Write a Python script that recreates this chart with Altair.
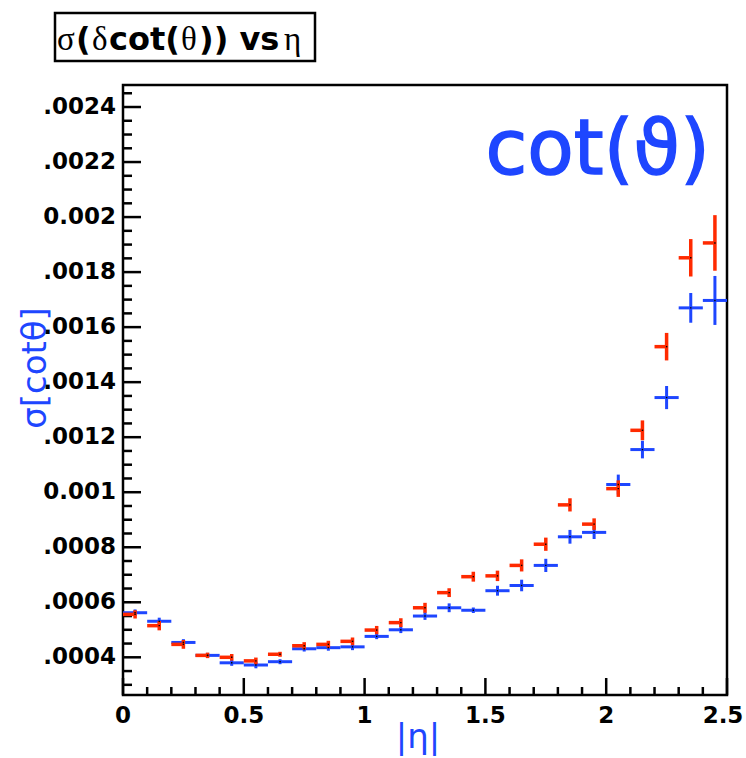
import altair as alt
import pandas as pd

# ---------------- data ----------------
eta_centers = [0.05, 0.15, 0.25, 0.35, 0.45, 0.55, 0.65, 0.75, 0.85, 0.95,
               1.05, 1.15, 1.25, 1.35, 1.45, 1.55, 1.65, 1.75, 1.85, 1.95,
               2.05, 2.15, 2.25, 2.35, 2.45]
bin_half = 0.05

blue_vals = [0.000562, 0.000531, 0.000454, 0.000407, 0.000380, 0.000372, 0.000384,
             0.000431, 0.000435, 0.000438, 0.000476, 0.000500, 0.000550, 0.000580,
             0.000571, 0.000642, 0.000661, 0.000734, 0.000838, 0.000854, 0.001028,
             0.001155, 0.001344, 0.001670, 0.001697]
blue_errs = [12e-6, 13e-6, 12e-6, 9e-6, 11e-6, 12e-6, 9e-6, 10e-6, 11e-6, 12e-6,
             10e-6, 12e-6, 14e-6, 16e-6, 10e-6, 18e-6, 21e-6, 24e-6, 25e-6, 24e-6,
             36e-6, 32e-6, 42e-6, 54e-6, 89e-6]

red_vals = [0.000556, 0.000515, 0.000447, 0.000407, 0.000400, 0.000387, 0.000411,
            0.000442, 0.000447, 0.000458, 0.000499, 0.000526, 0.000580, 0.000635,
            0.000693, 0.000696, 0.000734, 0.000811, 0.000954, 0.000884, 0.001013,
            0.001225, 0.001529, 0.001852, 0.001906]
red_errs = [15e-6, 17e-6, 16e-6, 10e-6, 12e-6, 12e-6, 9e-6, 13e-6, 13e-6, 14e-6,
            15e-6, 16e-6, 18e-6, 16e-6, 18e-6, 19e-6, 22e-6, 24e-6, 24e-6, 21e-6,
            30e-6, 36e-6, 50e-6, 68e-6, 101e-6]

y_major = [0.0004, 0.0006, 0.0008, 0.0010, 0.0012, 0.0014, 0.0016, 0.0018,
           0.0020, 0.0022, 0.0024]
y_labels = [".0004", ".0006", ".0008", "0.001", ".0012", ".0014", ".0016",
            ".0018", "0.002", ".0022", ".0024"]
y_minor = [0.00030, 0.00035, 0.00045, 0.00050, 0.00055, 0.00065, 0.00070, 0.00075,
           0.00085, 0.00090, 0.00095, 0.00105, 0.00110, 0.00115, 0.00125, 0.00130,
           0.00135, 0.00145, 0.00150, 0.00155, 0.00165, 0.00170, 0.00175, 0.00185,
           0.00190, 0.00195, 0.00205, 0.00210, 0.00215, 0.00225, 0.00230, 0.00235,
           0.00245]
x_major = [0.0, 0.5, 1.0, 1.5, 2.0, 2.5]
x_labels = ["0", "0.5", "1", "1.5", "2", "2.5"]
x_minor = [0.1, 0.2, 0.3, 0.4, 0.6, 0.7, 0.8, 0.9, 1.1, 1.2, 1.3, 1.4,
           1.6, 1.7, 1.8, 1.9, 2.1, 2.2, 2.3, 2.4]

# ---------------- style ----------------
BLUE = "#1e46ff"
RED = "#ff2a00"
W, H = 604, 610

df = pd.DataFrame({"x": eta_centers, "blue": blue_vals, "berr": blue_errs,
                   "red": red_vals, "rerr": red_errs})
df["xlo"] = df["x"] - bin_half
df["xhi"] = df["x"] + bin_half
df["blo"] = df["blue"] - df["berr"]
df["bhi"] = df["blue"] + df["berr"]
df["rlo"] = df["red"] - df["rerr"]
df["rhi"] = df["red"] + df["rerr"]

xs = alt.Scale(domain=[0, 2.5], nice=False, zero=False)
ys = alt.Scale(domain=[0.000263, 0.00248], nice=False, zero=False)

base = alt.Chart(df)

blue_h = base.mark_rule(color=BLUE, strokeWidth=3).encode(
    x=alt.X("xlo:Q", scale=xs, axis=None), x2="xhi:Q",
    y=alt.Y("blue:Q", scale=ys, axis=None))
blue_v = base.mark_rule(color=BLUE, strokeWidth=3).encode(
    x=alt.X("x:Q", scale=xs, axis=None),
    y=alt.Y("blo:Q", scale=ys, axis=None), y2="bhi:Q")
red_h = base.mark_rule(color=RED, strokeWidth=3.5).encode(
    x=alt.X("xlo:Q", scale=xs, axis=None), x2="x:Q",
    y=alt.Y("red:Q", scale=ys, axis=None))
red_v = base.mark_rule(color=RED, strokeWidth=3.5).encode(
    x=alt.X("x:Q", scale=xs, axis=None),
    y=alt.Y("rlo:Q", scale=ys, axis=None), y2="rhi:Q")
blue_dot = base.mark_square(color="black", size=2, opacity=1).encode(
    x=alt.X("x:Q", scale=xs, axis=None), y=alt.Y("blue:Q", scale=ys, axis=None))
red_dot = base.mark_square(color="black", size=2, opacity=1).encode(
    x=alt.X("x:Q", scale=xs, axis=None), y=alt.Y("red:Q", scale=ys, axis=None))

# ---------------- ticks (pointing inwards, ROOT style) ----------------
ymaj_df = pd.DataFrame({"v": y_major, "lab": y_labels})
ymin_df = pd.DataFrame({"v": y_minor})
xmaj_df = pd.DataFrame({"v": x_major, "lab": x_labels})
xmin_df = pd.DataFrame({"v": x_minor})

tick_w = 2.5
ymaj_t = alt.Chart(ymaj_df).mark_rule(color="black", strokeWidth=tick_w).encode(
    y=alt.Y("v:Q", scale=ys, axis=None), x=alt.value(0), x2=alt.value(18))
ymin_t = alt.Chart(ymin_df).mark_rule(color="black", strokeWidth=tick_w).encode(
    y=alt.Y("v:Q", scale=ys, axis=None), x=alt.value(0), x2=alt.value(9))
xmaj_t = alt.Chart(xmaj_df).mark_rule(color="black", strokeWidth=tick_w).encode(
    x=alt.X("v:Q", scale=xs, axis=None), y=alt.value(H), y2=alt.value(H - 17))
xmin_t = alt.Chart(xmin_df).mark_rule(color="black", strokeWidth=tick_w).encode(
    x=alt.X("v:Q", scale=xs, axis=None), y=alt.value(H), y2=alt.value(H - 8))

ylab = alt.Chart(ymaj_df).mark_text(
    font="DejaVu Sans", fontWeight="bold", fontSize=23, align="right",
    baseline="middle", color="black", dx=-7).encode(
    y=alt.Y("v:Q", scale=ys, axis=None), x=alt.value(0), text="lab:N")
xlab_font = dict(font="DejaVu Sans", fontWeight="bold", fontSize=23,
                 align="center", baseline="alphabetic", color="black")
xlab = alt.Chart(xmaj_df.iloc[:-1]).mark_text(**xlab_font).encode(
    x=alt.X("v:Q", scale=xs, axis=None), y=alt.value(H + 28), text="lab:N")
xlab_last = alt.Chart(xmaj_df.iloc[-1:]).mark_text(dx=-4, **xlab_font).encode(
    x=alt.X("v:Q", scale=xs, axis=None), y=alt.value(H + 28), text="lab:N")

# ---------------- titles and annotations ----------------
one = pd.DataFrame({"k": [0]})

def txt(s, x, y, **kw):
    return alt.Chart(one).mark_text(text=s, **kw).encode(
        x=alt.value(x), y=alt.value(y))

ytitle = txt("σ[cotθ]", -87, 283, font="DejaVu Sans", fontSize=34, color=BLUE,
             angle=270, align="center", baseline="middle")
xtitle = txt("|η|", 295, 663, font="DejaVu Sans", fontSize=34, color=BLUE,
             align="center", baseline="alphabetic")
cot = txt("cot(ϑ)", 587, 89, font="DejaVu Sans", fontSize=76, color=BLUE,
          align="right", baseline="alphabetic", stroke=BLUE, strokeWidth=1.5)

box = alt.Chart(one).mark_rect(fill="white", stroke="black", strokeWidth=2.5).encode(
    x=alt.value(-68), x2=alt.value(192), y=alt.value(-72), y2=alt.value(-24))

serif = dict(font="Liberation Serif", fontSize=33, color="black",
             align="left", baseline="alphabetic")
boldf = dict(font="DejaVu Sans", fontWeight="bold", fontSize=32, color="black",
             align="left", baseline="alphabetic")
tby = -35
title_parts = [
    txt("σ", -66, tby, **serif),
    txt("(", -47, tby, **boldf),
    txt("δ", -31, tby, **serif),
    txt("cot(", -14, tby, **boldf),
    txt("θ", 58, tby, **serif),
    txt(")) vs", 76, tby, **boldf),
    txt("η", 161, tby, **serif),
]

chart = alt.layer(
    ymin_t, ymaj_t, xmin_t, xmaj_t, ylab, xlab, xlab_last,
    blue_h, blue_v, red_h, red_v, blue_dot, red_dot,
    cot, ytitle, xtitle, box, *title_parts
).properties(
    width=W, height=H,
    autosize=alt.AutoSizeParams(type="none"),
    padding={"left": 123, "top": 85, "right": 19, "bottom": 63},
    background="white",
).configure_view(stroke="black", strokeWidth=2.5)

chart.save("out.html", embed_options={"renderer": "svg", "actions": False})
